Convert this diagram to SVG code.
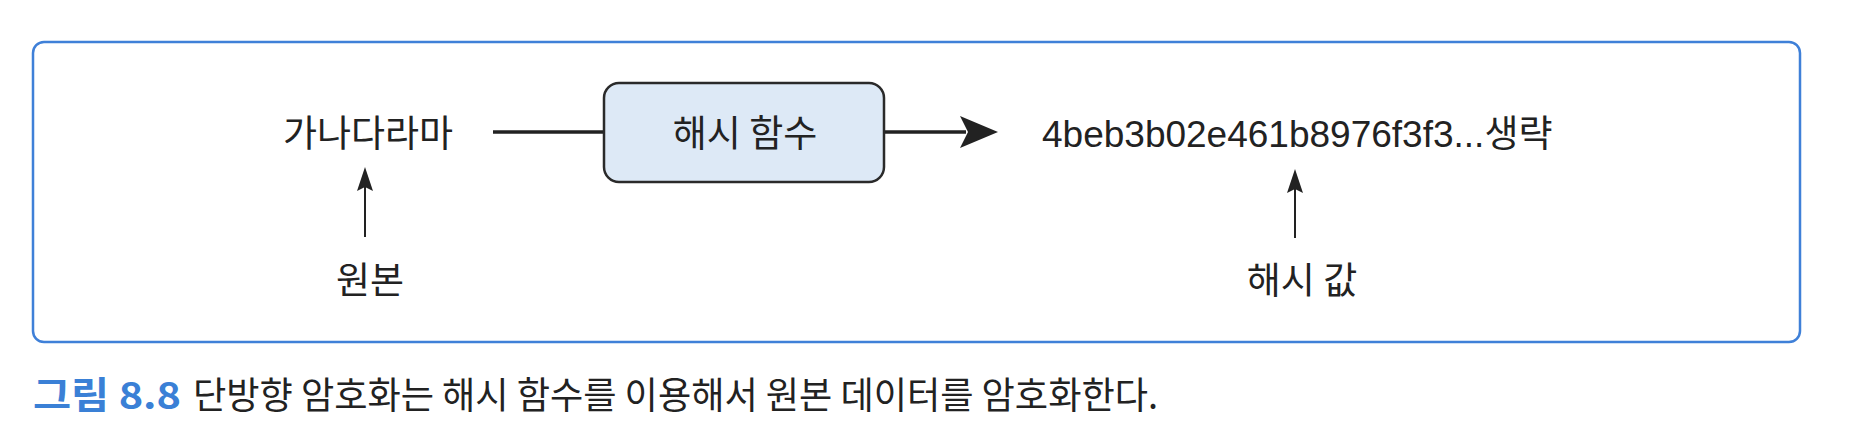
<svg xmlns="http://www.w3.org/2000/svg" width="1850" height="446" viewBox="0 0 1850 446">
<style>
.k{font-family:"Noto Sans CJK KR","Noto Sans",sans-serif;font-size:37px;fill:#222;}
.h{font-family:"Liberation Sans","Noto Sans CJK KR",sans-serif;font-size:37px;}
.frame{fill:#fff;stroke:#3f80d8;stroke-width:2.5;}
.node{fill:#dde9f6;stroke:#2a2a2a;stroke-width:2.5;}
.conn{stroke:#222;fill:none;}
.cap{font-family:"Noto Sans CJK KR","Noto Sans",sans-serif;font-size:37px;fill:#222;}
.capb{fill:#3a80d6;font-weight:bold;}
</style>
<rect width="1850" height="446" fill="#fff"/>
<rect class="frame" x="33" y="42" width="1767" height="300" rx="11"/>
<g id="connectors">
<line class="conn" x1="493" y1="132" x2="604" y2="132" stroke-width="3.5"/>
<line class="conn" x1="884" y1="132" x2="966" y2="132" stroke-width="3.5"/>
<path d="M998,132 L960,116 L968,132 L960,148 Z" fill="#222"/>
<line class="conn" x1="365" y1="237" x2="365" y2="186" stroke-width="2"/>
<path d="M365,167 L357,191 L365,187 L373,191 Z" fill="#222"/>
<line class="conn" x1="1295" y1="238" x2="1295" y2="188" stroke-width="2"/>
<path d="M1295,169 L1287,193 L1295,189 L1303,193 Z" fill="#222"/>
</g>
<g id="original">
<text class="k" x="368" y="147" text-anchor="middle">가나다라마</text>
</g>
<g id="hashfn">
<rect class="node" x="604" y="83" width="280" height="99" rx="15"/>
<text class="k" x="745" y="147" text-anchor="middle">해시 함수</text>
</g>
<g id="hashvalue">
<text class="k" x="1042" y="147"><tspan class="h">4beb3b02e461b8976f3f3...</tspan>생략</text>
</g>
<g id="label-original">
<text class="k" x="370" y="294" text-anchor="middle">원본</text>
</g>
<g id="label-hashvalue">
<text class="k" x="1302" y="294" text-anchor="middle">해시 값</text>
</g>
<g id="caption">
<text class="cap" x="33" y="409"><tspan class="capb" textLength="148" lengthAdjust="spacingAndGlyphs">그림 8.8</tspan><tspan x="193" textLength="965" lengthAdjust="spacingAndGlyphs">단방향 암호화는 해시 함수를 이용해서 원본 데이터를 암호화한다.</tspan></text>
</g>
</svg>
